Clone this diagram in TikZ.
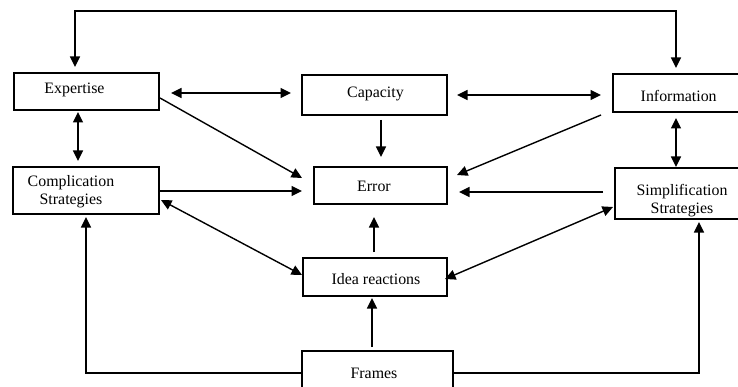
\documentclass[tikz,border=0pt]{standalone}
\usepackage{fontspec}
\setmainfont{Liberation Serif}
\usetikzlibrary{arrows.meta}
\begin{document}
\begin{tikzpicture}[x=1pt,y=1pt,
 box/.style={draw, line width=1.3pt, rectangle, inner sep=0pt, outer sep=0pt, anchor=south west},
 txt/.style={font=\fontsize{15.9}{17.5}\selectfont, inner sep=0pt, anchor=base},
 con/.style={line width=1.4pt, -{Triangle[length=10.5pt,width=10pt]}},
 bi/.style={line width=1.4pt, {Triangle[length=10.5pt,width=10pt]}-{Triangle[length=10.5pt,width=10pt]}}]
\clip (0,0) rectangle (738,386);
% boxes
\node[box, minimum width=145pt, minimum height=37pt] (exp) at (14,276) {};
\node[box, minimum width=145pt, minimum height=40pt] (cap) at (302,271) {};
\node[box, minimum width=133pt, minimum height=38pt] (info) at (613,274) {};
\node[box, minimum width=146pt, minimum height=47pt] (comp) at (13,172) {};
\node[box, minimum width=133pt, minimum height=37pt] (err) at (314,182) {};
\node[box, minimum width=131pt, minimum height=51pt] (simp) at (615,167) {};
\node[box, minimum width=144pt, minimum height=38pt] (idea) at (303,90) {};
\node[box, minimum width=151pt, minimum height=44pt] (fr) at (302,-9) {};
% texts
\node[txt] (expt) at (74.5,292.7) {Expertise};
\node[txt] (capt) at (375.5,288) {Capacity};
\node[txt] (infot) at (678.7,284) {Information};
\node[txt, anchor=center, align=center] (compt) at (71,194.1) {Complication\\Strategies};
\node[txt, anchor=center, align=center] (simpt) at (682,185.6) {Simplification\\Strategies};
\node[txt] (errt) at (374,194.3) {Error};
\node[txt] (ideat) at (376,101.7) {Idea reactions};
\node[txt] (frt) at (374,7.7) {Frames};
% connectors
\draw[bi] ([shift={(-11.5,6)}]exp.north) -- ++(0,56) -| ([shift={(-3.5,6)}]info.north);
\draw[bi] ([shift={(12,-1.5)}]exp.east) -- ([shift={(-11,2)}]cap.west);
\draw[bi] ([shift={(10,0)}]cap.east) -- ([shift={(-12,-2)}]info.west);
\draw[bi] ([shift={(-8.5,-2)}]exp.south) -- ([shift={(-8,6)}]comp.north);
\draw[bi] ([shift={(-3.5,-6)}]info.south) -- ([shift={(-4.5,1)}]simp.north);
\draw[con] ([shift={(6.5,-5)}]cap.south) -- ([shift={(0.5,10)}]err.north);
\draw[con] ([shift={(1,-6.5)}]exp.east) -- ([shift={(-12,7.5)}]err.west);
\draw[con] ([shift={(-12,-3)}]info.south west) -- ([shift={(10,10.5)}]err.east);
\draw[con] ([shift={(1,-0.5)}]comp.east) -- ([shift={(-12,-5.5)}]err.west);
\draw[con] ([shift={(-12,1.5)}]simp.west) -- ([shift={(12,-6.5)}]err.east);
\draw[bi] ([shift={(2,14)}]comp.south east) -- ([shift={(-1,2)}]idea.west);
\draw[bi] ([shift={(-2,12)}]simp.south west) -- ([shift={(-2,-2)}]idea.east);
\draw[con] ([shift={(-1,6)}]idea.north) -- ([shift={(-6.5,-13)}]err.south);
\draw[con] ([shift={(-5.5,4)}]fr.north) -- ([shift={(-3,-2)}]idea.south);
\draw[con] (fr.west) -| ([shift={(0,-3)}]comp.south);
\draw[con] (fr.east) -| ([shift={(18.5,-3)}]simp.south);
\end{tikzpicture}
\end{document}
